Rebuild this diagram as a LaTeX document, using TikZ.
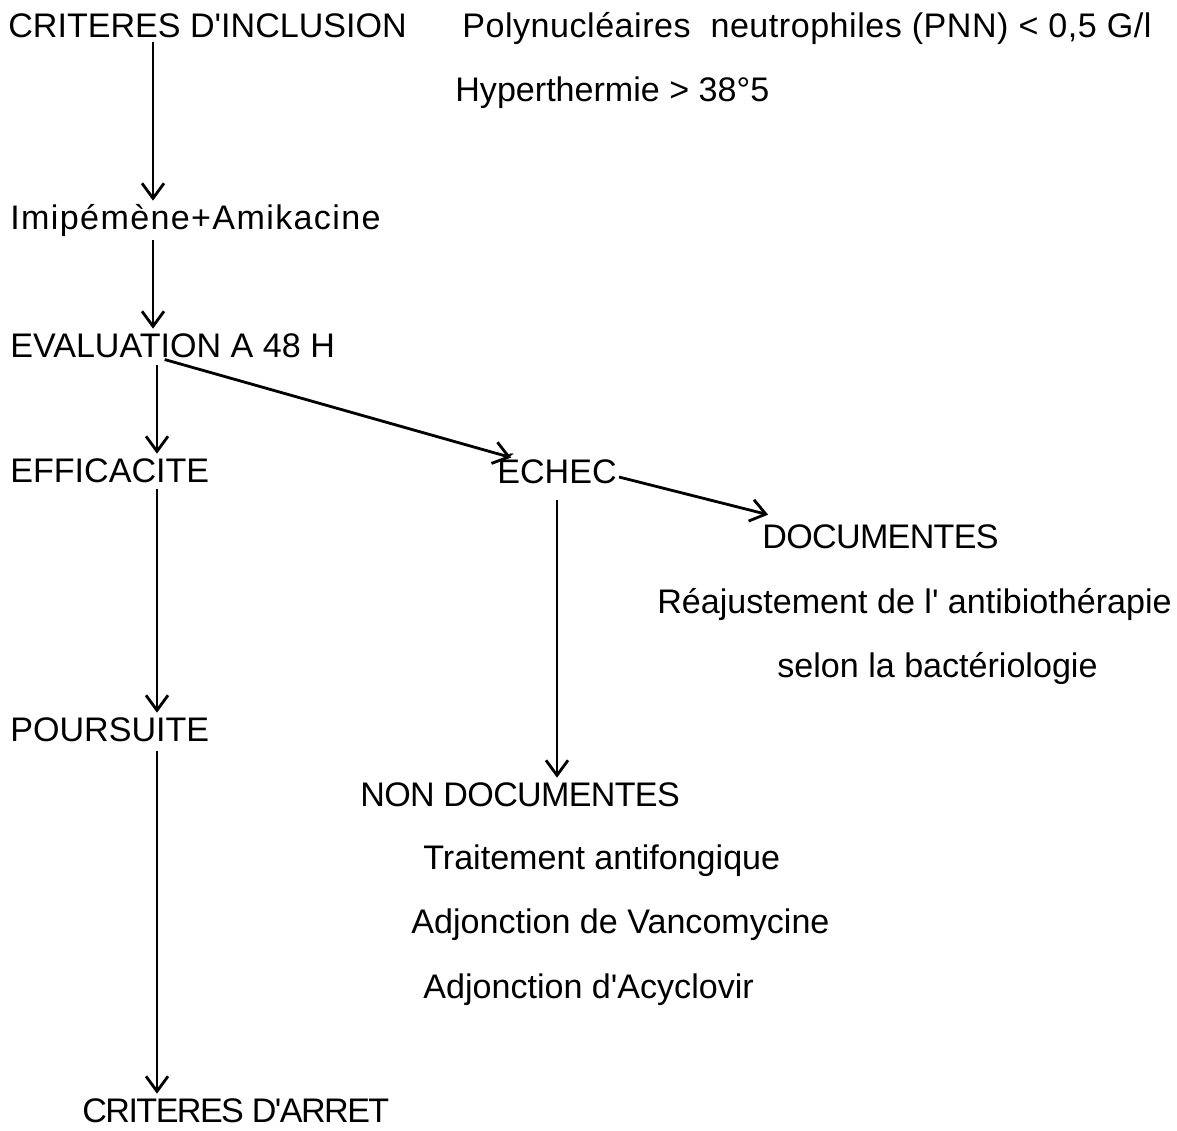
\documentclass[tikz,border=0pt]{standalone}
\usepackage{fontspec}
\setmainfont{Liberation Sans}[Ligatures=TeXOff]
\usetikzlibrary{arrows.meta,calc}

\begin{document}
\begin{tikzpicture}[
        x=0.02cm, y=-0.02cm,
        lbl/.style={inner sep=0pt, anchor=base west, text height=0.48cm, text depth=0pt,
            font=\fontsize{19.4pt}{23pt}\selectfont},
        arr/.style={line width=1.6pt, -{Straight Barb[length=0.3cm,width=0.44cm]}, shorten >=0.08cm}
    ]
        \useasboundingbox (0,0) rectangle (1177,1130);

        % Labels of the scheme
        \node[lbl] (incl) at (8,37) {CRITERES D'INCLUSION};
        \node[lbl] (pnn) at (462,37) {\addfontfeatures{LetterSpace=1.5}Polynucléaires\ \ neutrophiles (PNN) < 0,5 G/l};
        \node[lbl] (hyper) at (455,101) {Hyperthermie > 38°5};
        \node[lbl] (imi) at (10,229) {\addfontfeatures{LetterSpace=4}Imipémène+Amikacine};
        \node[lbl] (eval) at (10,357) {EVALUATION A 48 H};
        \node[lbl] (effic) at (10,482) {EFFICACITE};
        \node[lbl] (echec) at (497,483) {ÉCHEC};
        \node[lbl] (docs) at (762,548) {\addfontfeatures{LetterSpace=-2}DOCUMENTES};
        \node[lbl] (reaj) at (657,613) {Réajustement de l' antibiothérapie};
        \node[lbl] (selon) at (777,677) {selon la bactériologie};
        \node[lbl] (pours) at (10,741) {POURSUITE};
        \node[lbl] (nondoc) at (360,806) {\addfontfeatures{LetterSpace=-2}NON DOCUMENTES};
        \node[lbl] (trait) at (423,869) {Traitement antifongique};
        \node[lbl] (vanco) at (411,933) {Adjonction de Vancomycine};
        \node[lbl] (acyc) at (423,998) {Adjonction d'Acyclovir};
        \node[lbl] (arret) at (82,1122) {\addfontfeatures{LetterSpace=-4.5}CRITERES D'ARRET};

        % Columns of the vertical arrows
        \coordinate (colA) at (153,0);
        \coordinate (colB) at (157,0);
        \coordinate (colC) at (557,0);

        % Arrows
        \draw[arr, shorten <=0.1cm] (incl.south -| colA) -- (imi.north -| colA);
        \draw[arr, shorten <=0.22cm] (imi.south -| colA) -- (eval.north -| colA);
        \draw[arr, shorten <=0.16cm] (eval.south -| colB) -- (effic.north -| colB);
        \draw[arr, shorten <=0.16cm] (eval.south -| colB) -- ($(echec.north west)+(18,0)$);
        \draw[arr] ($(echec.east)+(2,6)$) -- ($(docs.north west)+(10,-8)$);
        \draw[arr, shorten <=0.34cm] (echec.south -| colC) -- (nondoc.north -| colC);
        \draw[arr, shorten <=0.14cm] (effic.south -| colB) -- (pours.north -| colB);
        \draw[arr, shorten <=0.2cm] (pours.south -| colB) -- (arret.north -| colB);
    \end{tikzpicture}
\end{document}
